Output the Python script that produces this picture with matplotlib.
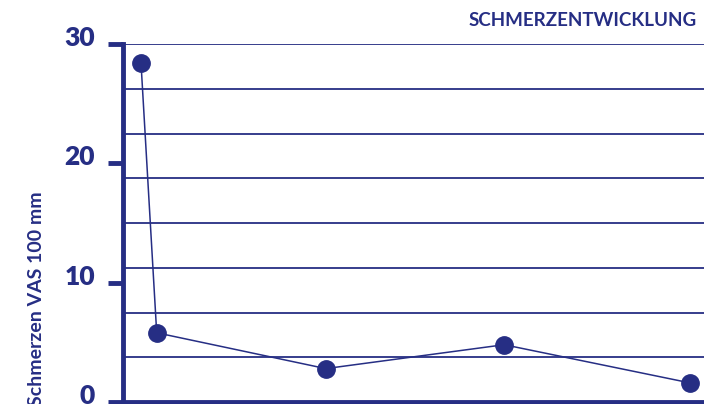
import matplotlib
matplotlib.use("Agg")
import matplotlib.pyplot as plt
from matplotlib.ticker import MultipleLocator
import matplotlib.transforms as mtransforms

# data
time_pos = [3.1, 5.8, 34.9, 65.6, 97.6]
vas_values = [28.4, 5.8, 2.8, 4.8, 1.6]
y_ticks = [0, 10, 20, 30]
title = "SCHMERZENTWICKLUNG"
y_label = "Schmerzen VAS 100 mm"

navy = "#262E84"
plt.rcParams['font.family'] = ['Lato', 'DejaVu Sans']

fig = plt.figure(figsize=(7.04, 4.04), dpi=100)
ax = fig.add_axes([123/704, 2/404, 581/704, 358/404])

ax.set_xlim(0, 100)
ax.set_ylim(0, 30)

# gridlines
ax.yaxis.set_minor_locator(MultipleLocator(3.75))
ax.set_yticks(y_ticks)
ax.grid(True, which='minor', axis='y', color=navy, linewidth=1.3)
ax.axhline(30, color=navy, linewidth=1.3)

ax.plot(time_pos, vas_values, color=navy, linewidth=1.1, marker='o',
        markersize=12.5, markerfacecolor=navy, markeredgecolor=navy,
        clip_on=False, zorder=5)

for s in ['top', 'right']:
    ax.spines[s].set_visible(False)
for s in ['left', 'bottom']:
    ax.spines[s].set_color(navy)
    ax.spines[s].set_linewidth(3.5)

ax.set_xticks([])
ax.tick_params(axis='y', which='major', length=11, width=3.5, color=navy,
               labelcolor=navy, labelsize=19, pad=9)
ax.tick_params(axis='y', which='minor', length=0)
offset = mtransforms.ScaledTranslation(0, 8/100, fig.dpi_scale_trans)
for lbl in ax.get_yticklabels():
    lbl.set_fontweight('heavy')
    lbl.set_transform(lbl.get_transform() + offset)

fig.text(697/704, 1 - 21/404, title, ha='right', va='center', color=navy,
         fontsize=13.5, fontweight='bold')
fig.text(37/704, 1 - 191/404, y_label, rotation=90, ha='center', va='top',
         color=navy, fontsize=14, fontweight='bold')

fig.savefig("out.png", dpi=100)
